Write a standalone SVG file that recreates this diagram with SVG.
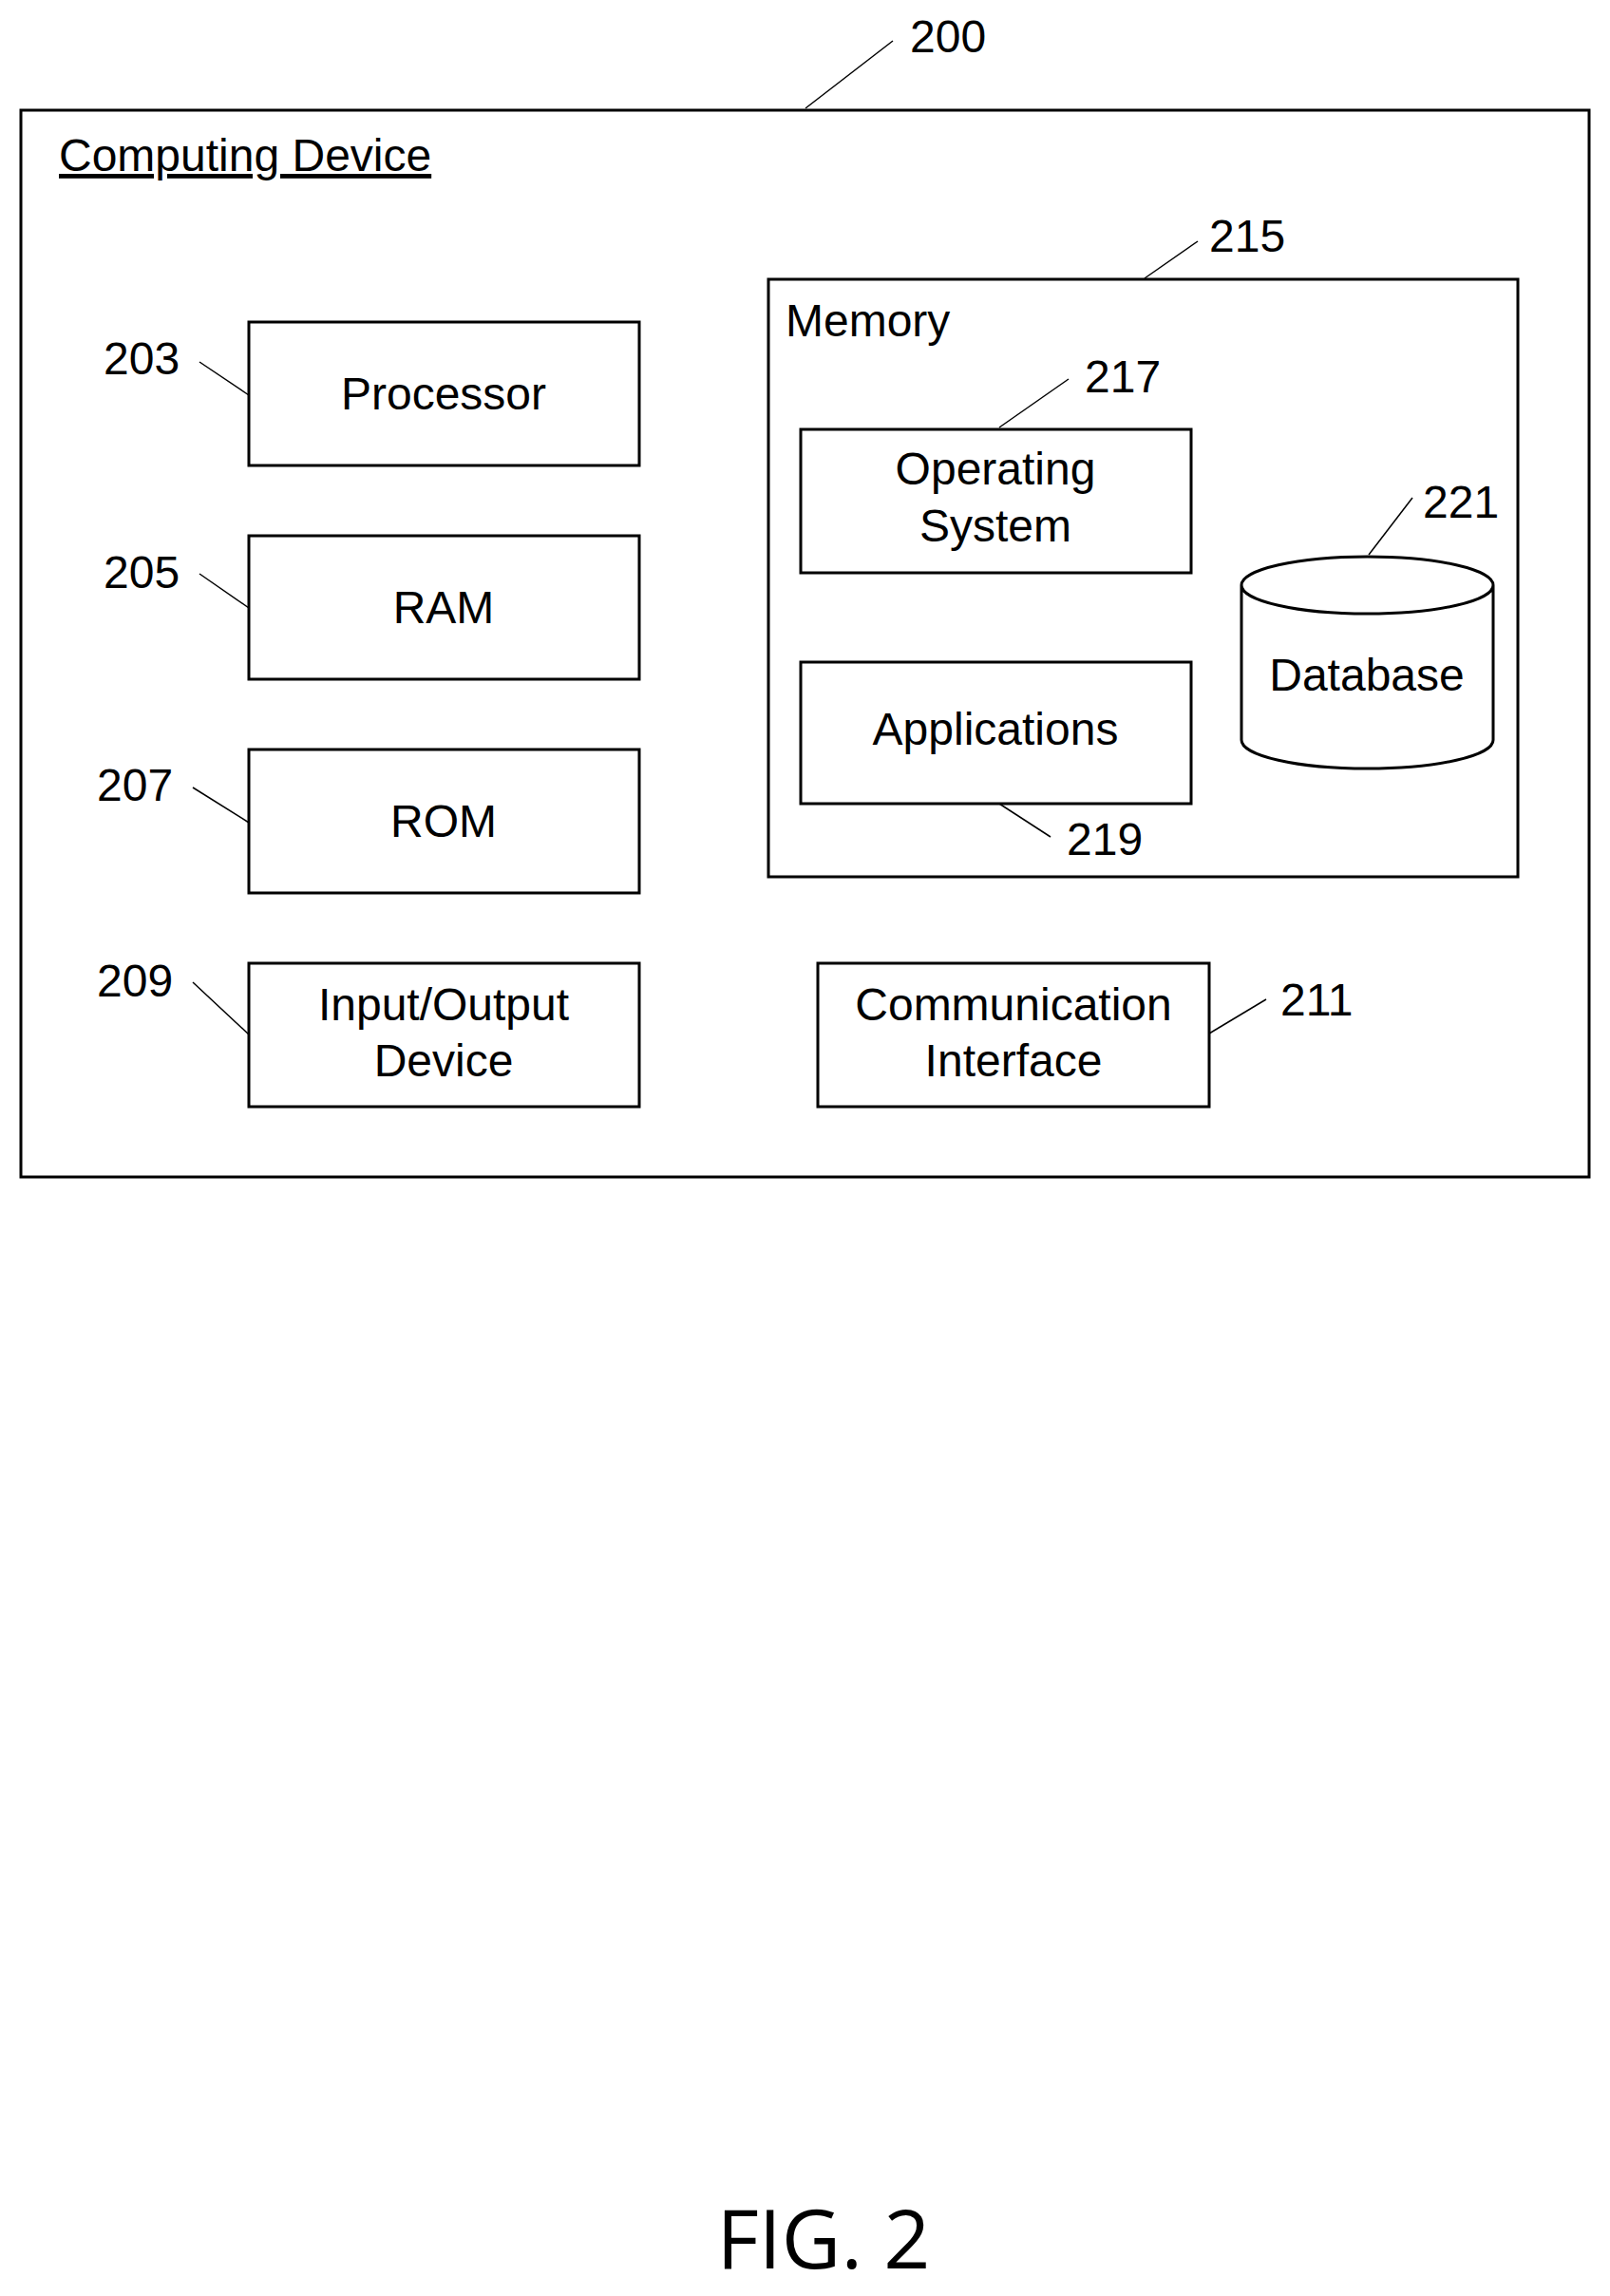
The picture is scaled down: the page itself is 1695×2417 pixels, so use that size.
<svg xmlns="http://www.w3.org/2000/svg" width="1695" height="2417" viewBox="0 0 1695 2417">
<style>
.b{fill:#fff;stroke:#000;stroke-width:3}
.l{stroke:#000;stroke-width:1.5;fill:none}
text{font-family:"Liberation Sans",Arial,sans-serif;font-size:48px;fill:#000}
.c{text-anchor:middle}
</style>
<rect width="1695" height="2417" fill="#fff"/>
<g id="computing-device"><rect class="b" x="22" y="116" width="1651" height="1123"/>
<text x="62" y="180" text-decoration="underline">Computing Device</text></g>
<g id="memory"><rect class="b" x="809" y="294" width="789" height="629"/><text x="827" y="354">Memory</text></g>
<g id="processor"><rect class="b" x="262" y="339" width="411" height="151"/><text class="c" x="467" y="431">Processor</text></g>
<g id="ram"><rect class="b" x="262" y="564" width="411" height="151"/><text class="c" x="467" y="656">RAM</text></g>
<g id="rom"><rect class="b" x="262" y="789" width="411" height="151"/><text class="c" x="467" y="881">ROM</text></g>
<g id="io"><rect class="b" x="262" y="1014" width="411" height="151"/><text class="c" x="467" y="1074">Input/Output</text><text class="c" x="467" y="1133">Device</text></g>
<g id="comm"><rect class="b" x="861" y="1014" width="412" height="151"/><text class="c" x="1067" y="1074">Communication</text><text class="c" x="1067" y="1133">Interface</text></g>
<g id="os"><rect class="b" x="843" y="452" width="411" height="151"/><text class="c" x="1048" y="510">Operating</text><text class="c" x="1048" y="570">System</text></g>
<g id="apps"><rect class="b" x="843" y="697" width="411" height="149"/><text class="c" x="1048" y="784">Applications</text></g>
<g id="database"><path class="b" d="M1307,616 L1307,779 A132,30 0 0 0 1572,779 L1572,616 A132,30 0 0 0 1307,616 A132,30 0 0 0 1572,616"/><text class="c" x="1439" y="727">Database</text></g>
<g id="connectors">
<line class="l" x1="848" y1="114" x2="940" y2="43"/>
<line class="l" x1="1205" y1="293" x2="1261" y2="254"/>
<line class="l" x1="1052" y1="450" x2="1125" y2="399"/>
<line class="l" x1="210" y1="381" x2="262" y2="416"/>
<line class="l" x1="210" y1="604" x2="262" y2="640"/>
<line class="l" x1="203" y1="829" x2="262" y2="866"/>
<line class="l" x1="203" y1="1034" x2="262" y2="1089"/>
<line class="l" x1="1273" y1="1088" x2="1333" y2="1052"/>
<line class="l" x1="1052" y1="846" x2="1106" y2="881"/>
<line class="l" x1="1441" y1="584" x2="1487" y2="524"/>
</g>
<g id="labels">
<text x="958" y="55">200</text><text x="1273" y="265">215</text><text x="1142" y="413">217</text>
<text x="109" y="394">203</text><text x="109" y="619">205</text><text x="102" y="843">207</text>
<text x="102" y="1049">209</text><text x="1348" y="1069">211</text><text x="1123" y="900">219</text><text x="1498" y="545">221</text>
</g>
<text class="c" x="867" y="2388" style="font-family:'Open Sans',sans-serif;font-size:86px">FIG. 2</text>
</svg>
